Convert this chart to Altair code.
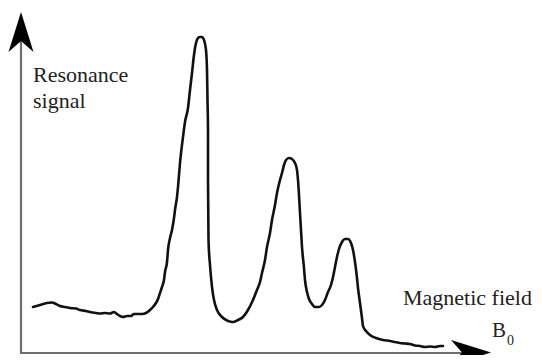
import altair as alt
import pandas as pd

# Trace of the resonance spectrum (arbitrary units: field along x, signal along y)
field = [12, 19, 26, 31, 35, 39, 44, 49, 55, 59, 65, 69, 75, 79, 84, 89, 93, 96, 99, 102,
         106, 110, 113, 117, 121, 125, 129, 132, 135, 137, 139, 141, 143, 144, 146, 147, 149,
         151, 153, 154, 156, 157, 159, 162, 164, 167, 169, 171, 173, 175, 177, 179, 181, 183,
         185, 186, 186.5, 187, 187, 187.5, 189, 191, 193, 196, 201, 207, 212, 217, 222, 227,
         232, 236, 239, 241, 244, 246, 249, 251, 254, 256, 259, 261, 263, 265, 268, 271, 274,
         276, 277, 278, 279, 280, 281, 283, 284, 286, 288, 291, 294, 298, 301, 304, 307, 310,
         312, 314, 316, 318, 321, 324, 327, 330, 332, 334, 336, 337, 339, 341, 342, 345, 349,
         355, 362, 369, 374, 379, 384, 389, 394, 399, 404, 409, 414, 419, 422]
signal = [46, 48, 50, 50.5, 49, 47, 46, 45, 44.5, 43, 42, 41, 40, 39.5, 40, 39.5, 41, 39,
          37, 36, 37, 37, 39, 39, 39, 40, 43, 46, 50, 54, 60, 66, 73, 81, 91, 103, 115, 123,
          135, 143, 156, 166, 190, 216, 231, 245, 263, 280, 298, 310, 315, 316, 316, 313, 303,
          283, 253, 223, 173, 113, 88, 66, 53, 43, 36, 32, 31, 33, 36, 43, 53, 63, 71, 80, 93,
          106, 120, 133, 148, 160, 173, 180, 188, 193, 195, 194, 190, 183, 173, 158, 140, 123,
          106, 85, 73, 61, 54, 49, 46, 46, 48, 53, 61, 68, 76, 86, 96, 104, 111, 114, 114, 110,
          103, 91, 75, 65, 50, 35, 27, 22, 18, 15, 13, 12, 11, 10, 9.5, 9, 7.5, 7, 6, 6.5, 6,
          7, 7]

y_labels = ["Resonance", "signal"]
x_labels = ["Magnetic field"]

FONT = "Liberation Serif, Times New Roman, serif"

XDOM = [-13, 513]
YDOM = [-2, 345]
xs = alt.Scale(domain=XDOM, nice=False, zero=False)
ys = alt.Scale(domain=YDOM, nice=False, zero=False)

curve_df = pd.DataFrame({"field": field, "signal": signal, "order": list(range(len(field)))})

curve = alt.Chart(curve_df).mark_line(
    color="#111111", strokeWidth=2.6, strokeJoin="round", strokeCap="round", interpolate="monotone"
).encode(
    x=alt.X("field:Q", scale=xs, axis=None),
    y=alt.Y("signal:Q", scale=ys, axis=None),
    order="order:Q",
)

axes_df = pd.DataFrame({
    "x1": [0, 0], "x2": [0, 452],
    "y1": [-1, 0], "y2": [316, 0],
})
axis_lines = alt.Chart(axes_df).mark_rule(color="#6e6e6e", strokeWidth=2.2).encode(
    x=alt.X("x1:Q", scale=xs, axis=None), x2="x2:Q",
    y=alt.Y("y1:Q", scale=ys, axis=None), y2="y2:Q",
)

arrow_path = "M0,-1 L0.625,1 L0,0.45 L-0.625,1 Z"
arrows_df = pd.DataFrame({"x": [0, 450], "y": [321, 0.5], "ang": [0, 90]})
arrows = alt.Chart(arrows_df).mark_point(
    shape=arrow_path, size=1600, filled=True, color="#000000", strokeWidth=0, opacity=1
).encode(
    x=alt.X("x:Q", scale=xs, axis=None),
    y=alt.Y("y:Q", scale=ys, axis=None),
    angle=alt.Angle("ang:Q", scale=None),
)

text_df = pd.DataFrame({
    "x": [12, 12, 382],
    "y": [271, 245, 48],
    "t": y_labels + x_labels,
})
texts = alt.Chart(text_df).mark_text(
    font=FONT, fontSize=22, align="left", baseline="alphabetic", color="#222222"
).encode(
    x=alt.X("x:Q", scale=xs, axis=None),
    y=alt.Y("y:Q", scale=ys, axis=None),
    text="t:N",
)

b_df = pd.DataFrame({"x": [471], "y": [16], "t": ["B"]})
b_text = alt.Chart(b_df).mark_text(
    font=FONT, fontSize=21, align="left", baseline="alphabetic", color="#222222"
).encode(
    x=alt.X("x:Q", scale=xs, axis=None),
    y=alt.Y("y:Q", scale=ys, axis=None),
    text="t:N",
)
sub_df = pd.DataFrame({"x": [486], "y": [8], "t": ["0"]})
sub_text = alt.Chart(sub_df).mark_text(
    font=FONT, fontSize=14, align="left", baseline="alphabetic", color="#222222"
).encode(
    x=alt.X("x:Q", scale=xs, axis=None),
    y=alt.Y("y:Q", scale=ys, axis=None),
    text="t:N",
)

chart = alt.layer(axis_lines, curve, arrows, texts, b_text, sub_text).properties(
    width=526, height=347, padding=0, autosize=alt.AutoSizeParams(type="none"),
    background="white",
).configure_view(stroke=None)

chart.save("out.html", embed_options={"renderer": "svg", "actions": False})
